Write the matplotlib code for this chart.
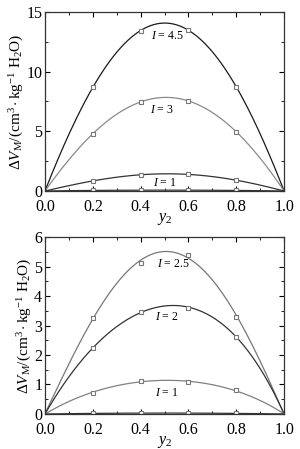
import numpy as np
import matplotlib
matplotlib.use('Agg')
import matplotlib.pyplot as plt
from matplotlib.ticker import MultipleLocator

plt.rcParams['font.family'] = ['Liberation Serif', 'DejaVu Serif']
plt.rcParams['mathtext.fontset'] = 'custom'
plt.rcParams['mathtext.rm'] = 'Liberation Serif'
plt.rcParams['mathtext.it'] = 'Liberation Serif:italic'

# mole fraction y2
y2 = [0.0, 0.2, 0.4, 0.6, 0.8, 1.0]

# top panel
top_i45 = [0.0, 8.7, 13.4, 13.5, 8.7, 0.0]
top_i3 = [0.0, 4.8, 7.45, 7.55, 4.95, 0.0]
top_i1 = [0.0, 0.85, 1.35, 1.4, 0.9, 0.0]
top_low = [0.0, 0.05, 0.07, 0.07, 0.05, 0.0]

# bottom panel
bot_i25 = [0.0, 3.27, 5.12, 5.38, 3.3, 0.0]
bot_i2 = [0.0, 2.23, 3.46, 3.6, 2.62, 0.0]
bot_i1 = [0.0, 0.72, 1.13, 1.07, 0.8, 0.0]
bot_low = [0.0, 0.02, 0.03, 0.03, 0.02, 0.0]

top_series = [(top_i45, '#1a1a1a'), (top_i3, '#8a8a8a'), (top_i1, '#333333'), (top_low, '#333333')]
bot_series = [(bot_i25, '#777777'), (bot_i2, '#333333'), (bot_i1, '#808080'), (bot_low, '#333333')]

top_labels = [('$I$ = 4.5', 0.51, 13.0), ('$I$ = 3', 0.49, 6.8), ('$I$ = 1', 0.50, 0.7)]
bot_labels = [('$I$ = 2.5', 0.535, 5.1), ('$I$ = 2', 0.51, 3.3), ('$I$ = 1', 0.51, 0.72)]

ylabel = r'$\Delta V_{\rm M}/({\rm cm}^3\cdot{\rm kg}^{-1}\ {\rm H_2O})$'


def draw_panel(ax, series, labels, ymax, ymajor, yminor):
    xs = np.linspace(0, 1, 200)
    for vals, color in series:
        coef = np.polyfit(y2, vals, 4)
        ax.plot(xs, np.polyval(coef, xs), color=color, lw=0.9)
        ax.plot(y2[1:-1], vals[1:-1], 's', mfc='white', mec='#777777', ms=3.5, mew=0.8)
    for text, x, y in labels:
        ax.text(x, y, text, ha='center', va='center', fontsize=8.5)
    ax.set_xlim(0, 1)
    ax.set_ylim(0, ymax)
    ax.xaxis.set_major_locator(MultipleLocator(0.2))
    ax.xaxis.set_minor_locator(MultipleLocator(0.1))
    ax.yaxis.set_major_locator(MultipleLocator(ymajor))
    ax.yaxis.set_minor_locator(MultipleLocator(yminor))
    ax.tick_params(which='both', direction='in', top=True, right=True, labelsize=11.5)
    ax.tick_params(axis='x', pad=6)
    ax.tick_params(axis='y', pad=2)
    ax.tick_params(which='major', length=3.5, width=0.8)
    ax.tick_params(which='minor', length=2, width=0.6)
    for sp in ax.spines.values():
        sp.set_linewidth(0.9)
        sp.set_color('#333333')
    ax.set_xlabel('$y_2$', fontsize=11.5, labelpad=-3)
    ax.set_ylabel(ylabel, fontsize=11, labelpad=0)


fig = plt.figure(figsize=(3.0, 4.49), dpi=100)
ax1 = fig.add_axes([0.15, 0.5746, 0.797, 0.399])
ax2 = fig.add_axes([0.15, 0.078, 0.797, 0.394])

draw_panel(ax1, top_series, top_labels, 15, 5, 2.5)
draw_panel(ax2, bot_series, bot_labels, 6, 1, 0.5)

fig.savefig('out.png', dpi=100)
